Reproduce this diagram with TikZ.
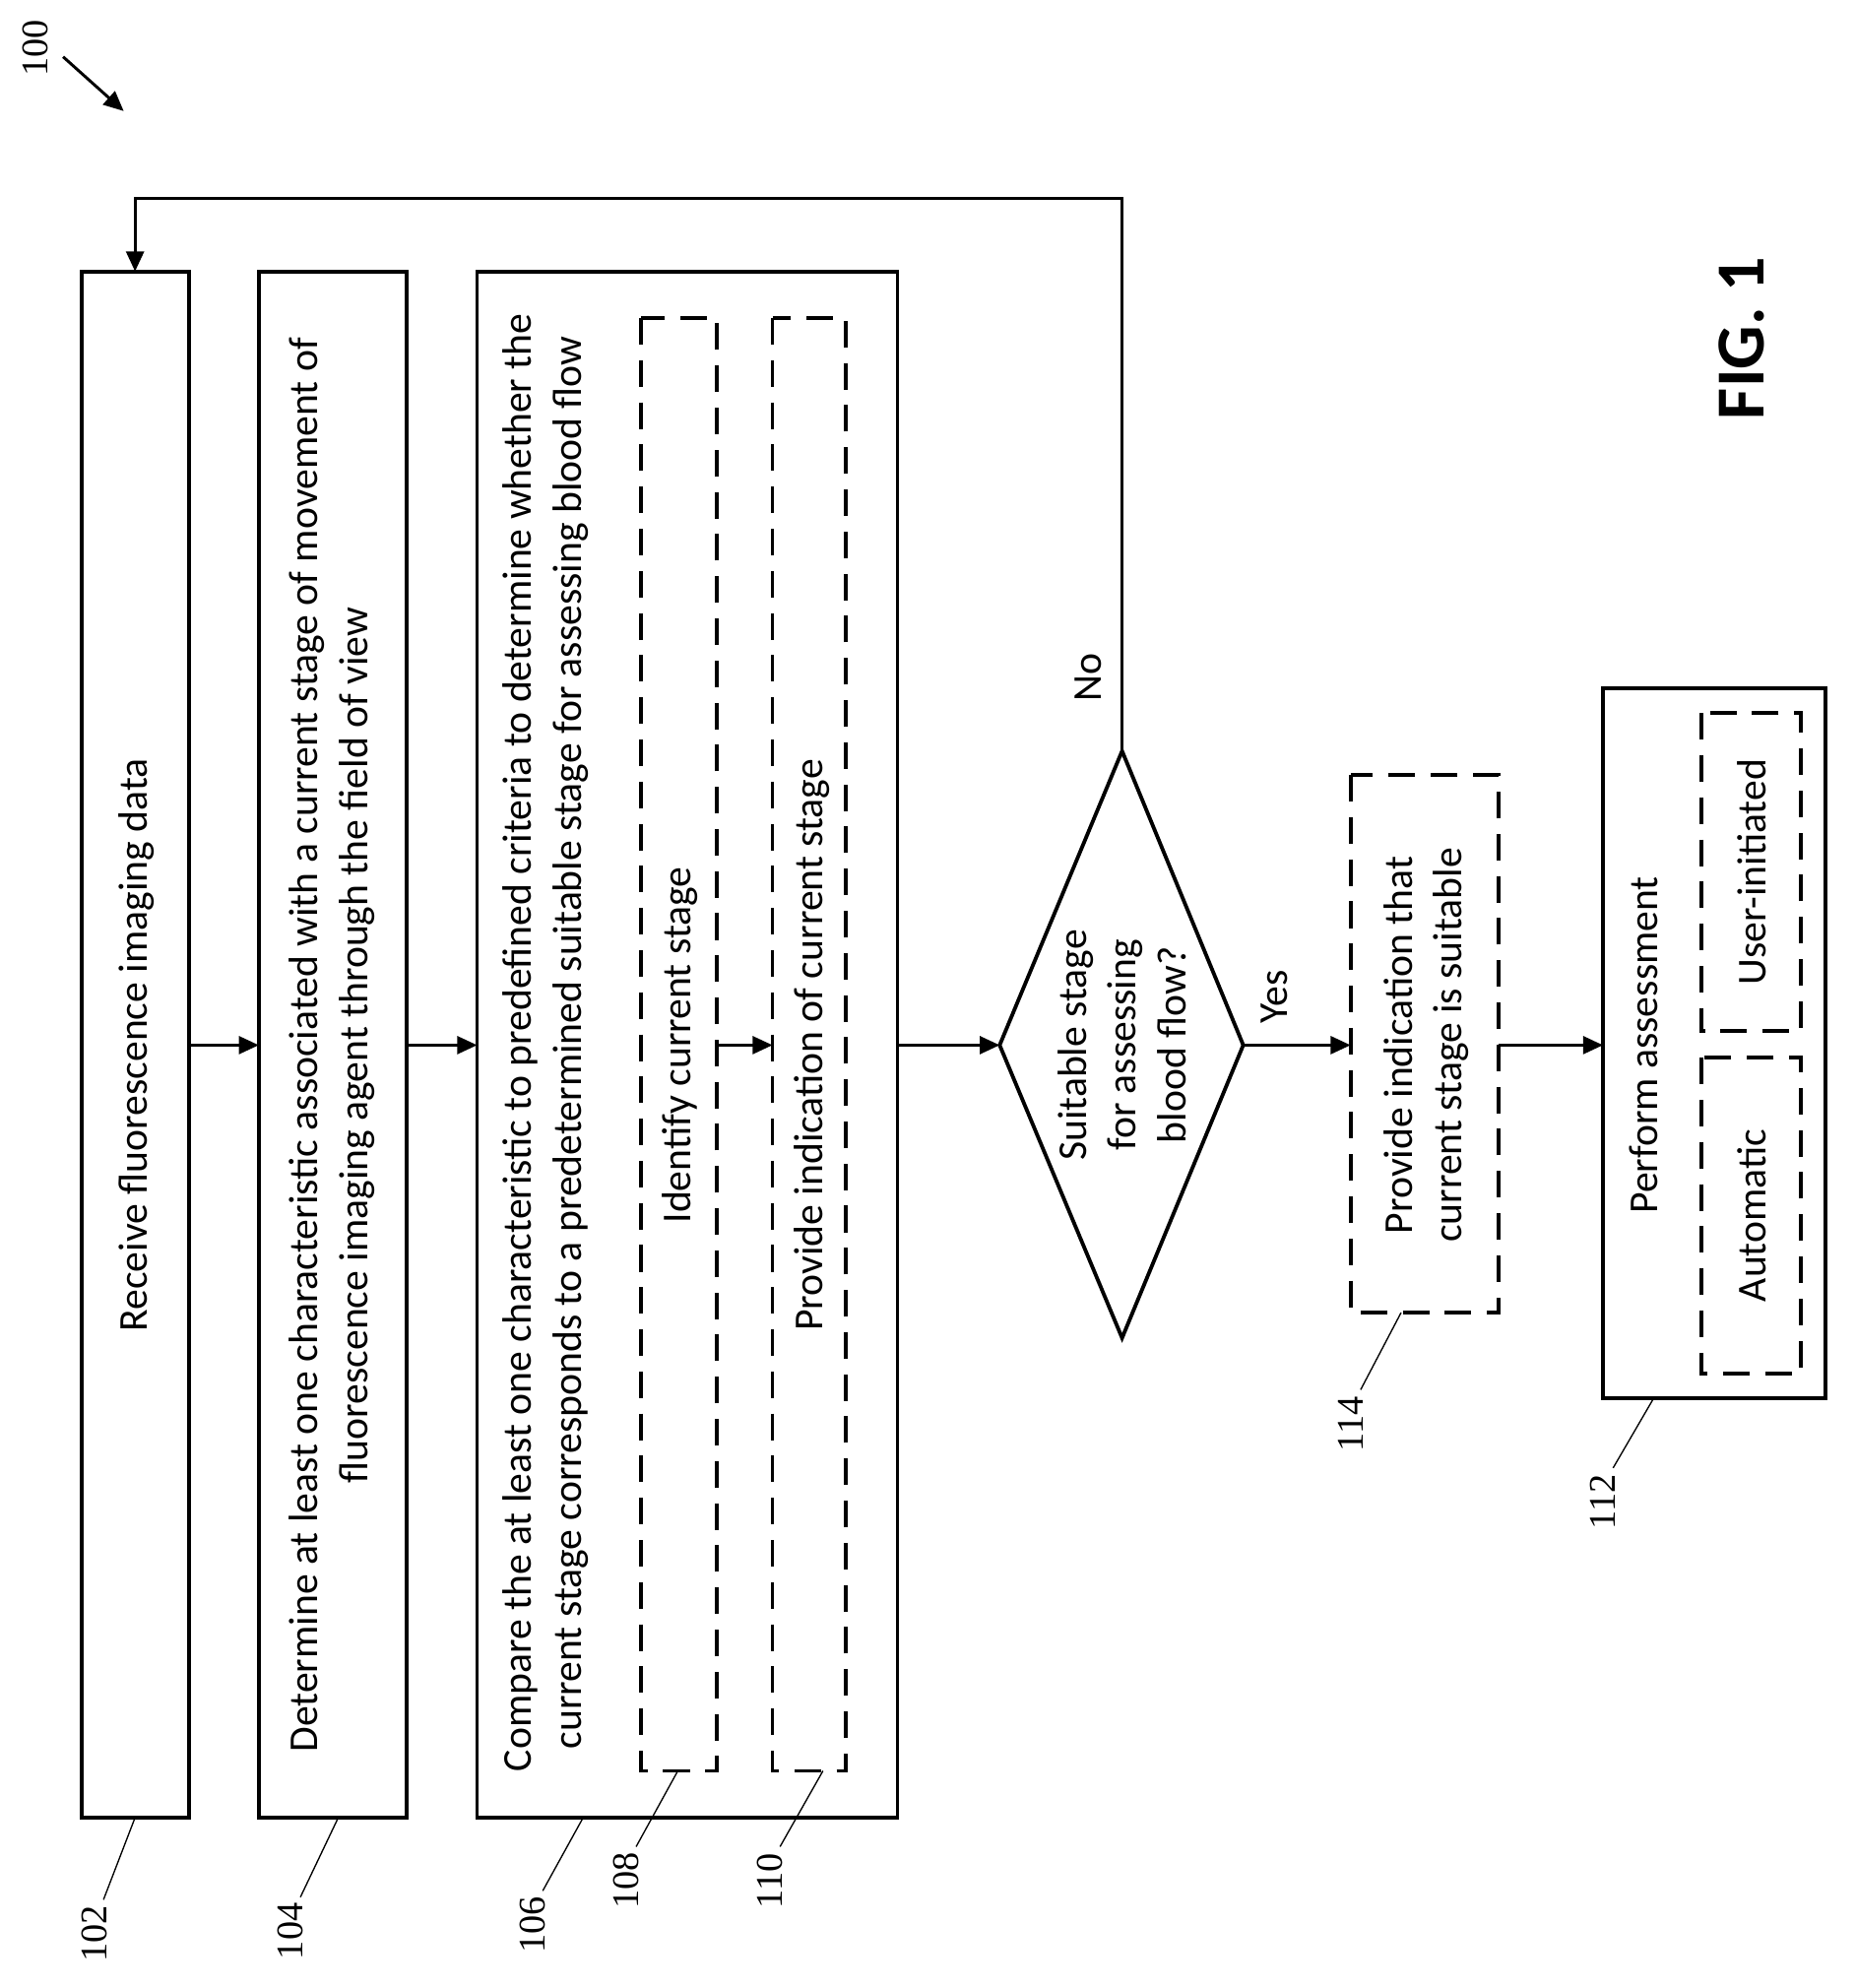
\documentclass[tikz,border=0pt]{standalone}
\usepackage{fontspec}
\setmainfont{Carlito}
\newfontfamily\numfont{Liberation Serif}
\usetikzlibrary{arrows.meta}
\begin{document}
\begin{tikzpicture}[x=0.02cm,y=-0.02cm,
  box/.style={draw,line width=1.7pt},
  dbox/.style={draw,line width=1.7pt,dash pattern=on 12pt off 7pt},
  arr/.style={line width=1.3pt,-{Triangle[length=9pt,width=8pt]}},
  txt/.style={rotate=90,font=\fontsize{18.5}{22.5}\selectfont,align=center,inner sep=0pt},
  num/.style={rotate=90,font=\numfont\fontsize{17}{19}\selectfont,inner sep=0pt},
  lead/.style={line width=0.6pt}]
\useasboundingbox (0,0) rectangle (1470,1575);
% boxes
\draw[box] (65,215) rectangle (150,1440);
\coordinate (b102l) at (65,828); \coordinate (b102r) at (150,828); \coordinate (b102t) at (107,215); \coordinate (b102b) at (107,1440);
\node[txt] (t102) at (108,828) {Receive fluorescence imaging data};
\draw[box] (205,215) rectangle (322,1440);
\coordinate (b104l) at (205,828); \coordinate (b104r) at (322,828); \coordinate (b104b) at (268,1440);
\node[txt] (t104) at (263,828) {Determine at least one characteristic associated with a current stage of movement of\\fluorescence imaging agent through the field of view};
\draw[box] (378,215) rectangle (711,1440);
\coordinate (b106l) at (378,828); \coordinate (b106r) at (711,828); \coordinate (b106b) at (462,1440);
\node[txt] (t106) at (432,826) {Compare the at least one characteristic to predefined criteria to determine whether the\\current stage corresponds to a predetermined suitable stage for assessing blood flow};
\draw[dbox] (508,252) rectangle (568,1403);
\coordinate (b108r) at (568,828); \coordinate (b108b) at (537,1403);
\node[txt] (t108) at (539,828) {Identify current stage};
\draw[dbox] (612,252) rectangle (670,1403);
\coordinate (b110l) at (612,828); \coordinate (b110b) at (652,1403);
\node[txt] (t110) at (643,828) {Provide indication of current stage};
% diamond
\coordinate (dl) at (792,828); \coordinate (dr) at (985,828); \coordinate (dt) at (889,595); \coordinate (db) at (889,1060);
\draw[line width=1.7pt] (dl)--(dt)--(dr)--(db)--cycle;
\node[txt] (td) at (889,828) {Suitable stage\\for assessing\\blood flow?};
% 114
\draw[dbox] (1070,614) rectangle (1187,1040);
\coordinate (b114l) at (1070,828); \coordinate (b114r) at (1187,828); \coordinate (b114b) at (1110,1040);
\node[txt] (t114) at (1130,828) {Provide indication that\\current stage is suitable};
% 112
\draw[box] (1270,545) rectangle (1446,1108);
\coordinate (b112l) at (1270,828); \coordinate (b112b) at (1310,1108);
\node[txt] (t112) at (1302,828) {Perform assessment};
\draw[dbox] (1348,838) rectangle (1427,1088);
\node[txt] (ta) at (1388,963) {Automatic};
\draw[dbox] (1348,565) rectangle (1427,817);
\node[txt] (tu) at (1388,691) {User-initiated};
% arrows
\draw[arr] (b102r)--(b104l);
\draw[arr] (b104r)--(b106l);
\draw[arr] (b108r)--(b110l);
\draw[arr] (b106r)--(dl);
\draw[arr] (dr)--(b114l);
\draw[arr] (b114r)--(b112l);
\draw[arr] (dt)--(889,157)--(107,157)--(b102t);
\node[txt] (no) at (862,537) {No};
\node[txt] (yes) at (1010,790) {Yes};
% fig
\node[rotate=90,font=\bfseries\fontsize{31}{34}\selectfont] (fig) at (1380,268) {FIG. 1};
% 100
\node[num] (n100) at (28,38) {100};
\coordinate (a100s) at (50,45); \coordinate (a100e) at (98,88);
\draw[arr] (a100s)--(a100e);
% ref labels
\node[num] (n102) at (75,1532) {102}; \draw[lead] (82,1505)--(b102b);
\node[num] (n104) at (230,1530) {104}; \draw[lead] (238,1503)--(b104b);
\node[num] (n106) at (422,1525) {106}; \draw[lead] (430,1498)--(b106b);
\node[num] (n108) at (496,1490) {108}; \draw[lead] (504,1463)--(b108b);
\node[num] (n110) at (610,1490) {110}; \draw[lead] (618,1463)--(b110b);
\node[num] (n114) at (1070,1128) {114}; \draw[lead] (1078,1101)--(b114b);
\node[num] (n112) at (1270,1190) {112}; \draw[lead] (1278,1163)--(b112b);
\end{tikzpicture}
\end{document}
